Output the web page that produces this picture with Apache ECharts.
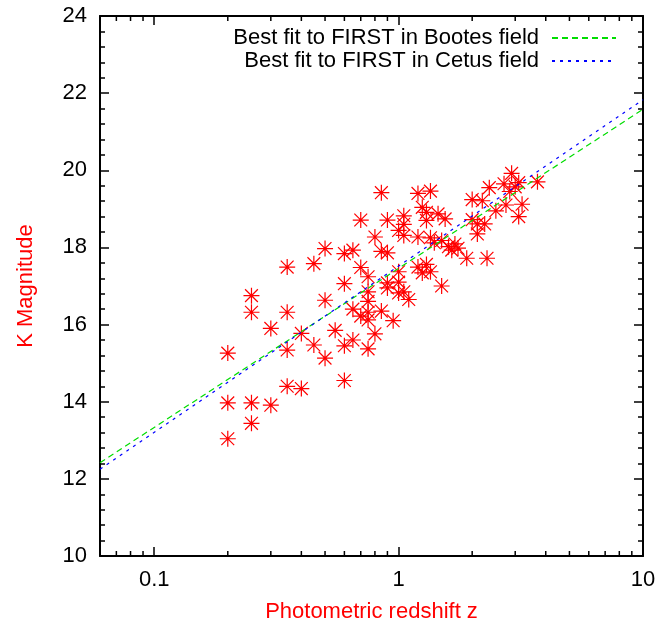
<!DOCTYPE html>
<html>
<head>
<meta charset="utf-8">
<script src="https://cdn.jsdelivr.net/npm/echarts@6/dist/echarts.min.js"></script>
<style>
html,body{margin:0;padding:0;background:#fff;}
#chart{width:659px;height:628px;}
</style>
</head>
<body>
<div id="chart"></div>
<script>
// ---- data ----
const xLabelValues = [0.1, 1, 10];
const yTickValues = [10, 12, 14, 16, 18, 20, 22, 24];
const xMinorTicks = [0.07, 0.08, 0.09, 0.2, 0.3, 0.4, 0.5, 0.6, 0.7, 0.8, 0.9, 2, 3, 4, 5, 6, 7, 8, 9];
const xRange = [0.06, 10];
const yRange = [10, 24];

const fieldPoints = [
  [0.2,15.26],[0.2,13.97],[0.2,13.04],
  [0.25,16.75],[0.25,16.32],[0.25,13.97],[0.25,13.44],
  [0.3,15.9],[0.3,13.91],
  [0.35,17.49],[0.35,16.32],[0.35,15.34],[0.35,14.4],
  [0.4,15.77],[0.4,14.34],
  [0.45,17.58],[0.45,15.47],
  [0.5,17.97],[0.5,16.63],[0.5,15.13],
  [0.55,15.85],
  [0.6,17.84],[0.6,17.06],[0.6,15.45],[0.6,14.55],
  [0.65,17.93],[0.65,16.4],[0.65,15.6],
  [0.7,18.71],[0.7,17.48],[0.7,16.22],
  [0.75,17.24],[0.75,16.85],[0.75,16.6],[0.75,16.32],[0.75,16.12],[0.75,15.37],
  [0.8,18.27],[0.8,15.76],
  [0.85,19.42],[0.85,17.9],[0.85,16.35],
  [0.9,18.71],[0.9,17.86],[0.9,17.08],[0.9,16.95],
  [0.95,16.1],
  [1.0,18.44],[1.0,17.37],[1.0,17.1],[1.0,16.82],
  [1.05,18.82],[1.05,18.6],[1.05,18.31],[1.05,16.85],
  [1.1,16.65],
  [1.2,19.4],[1.2,18.27],[1.2,17.49],
  [1.25,19.04],[1.25,17.34],
  [1.3,18.91],[1.3,18.7],[1.3,17.56],
  [1.35,19.46],[1.35,18.25],[1.35,17.37],
  [1.4,18.12],
  [1.45,18.87],
  [1.5,18.18],[1.5,17.0],
  [1.55,18.74],
  [1.6,18.02],
  [1.65,17.93],
  [1.7,18.09],
  [1.75,17.98],
  [1.9,17.72],
  [2.0,19.24],[2.0,18.72],
  [2.1,18.61],[2.1,18.35],
  [2.2,19.21],
  [2.25,18.61],
  [2.3,17.72],
  [2.35,19.55],
  [2.5,18.95],
  [2.7,19.65],
  [2.75,19.1],
  [2.85,19.45],
  [2.9,19.92],
  [3.0,19.57],
  [3.1,19.68],[3.1,18.8],
  [3.2,19.12],
  [3.7,19.7]
];
const bootesFit = [[0.06, 12.42], [10, 21.58]];
const cetusFit = [[0.06, 12.25], [10, 21.83]];
const bootesName = 'Best fit to FIRST in Bootes field';
const cetusName = 'Best fit to FIRST in Cetus field';
const xName = 'Photometric redshift z';
const yName = 'K Magnitude';

// ---- chart ----
const FONT = 'Liberation Sans, Arial, Helvetica, sans-serif';
const chart = echarts.init(document.getElementById('chart'), null, {renderer: 'canvas'});
const starPath = 'path://M-1,0L1,0M0,-1L0,1M-0.8,-0.8L0.8,0.8M-0.8,0.8L0.8,-0.8';

function logLabel(v) {
  for (const t of xLabelValues) {
    if (Math.abs(Math.log10(v) - Math.log10(t)) < 1e-6) return String(t);
  }
  return '';
}

const xAxisBase = {
  type: 'log', logBase: 10, min: xRange[0], max: xRange[1],
  splitLine: {show: false},
  axisLine: {show: true, lineStyle: {color: '#000', width: 2}},
  axisTick: {show: true, inside: true, length: 9, lineStyle: {color: '#000', width: 1.5}},
  minorTick: {show: false}
};
const yAxisBase = {
  type: 'value', min: yRange[0], max: yRange[1], interval: 2,
  splitLine: {show: false},
  axisLine: {show: true, lineStyle: {color: '#000', width: 2}},
  axisTick: {show: true, inside: true, length: 9, lineStyle: {color: '#000', width: 1.5}},
  minorTick: {show: true, splitNumber: 5, length: 5, lineStyle: {color: '#000', width: 1.5}},
  minorSplitLine: {show: false}
};

const option = {
  animation: false,
  backgroundColor: '#fff',
  textStyle: {fontFamily: FONT},
  grid: {left: 100, right: 16, top: 16, bottom: 69, containLabel: false},
  legend: {
    data: [bootesName, cetusName],
    orient: 'vertical',
    align: 'right',
    right: 37,
    top: 22,
    itemGap: 1,
    itemWidth: 64,
    itemHeight: 10,
    selectedMode: false,
    itemStyle: {opacity: 0},
    textStyle: {fontFamily: FONT, fontSize: 22, color: '#000', padding: [0, 8, 0, 0]}
  },
  xAxis: [
    Object.assign({}, xAxisBase, {
      position: 'bottom',
      name: xName, nameLocation: 'middle', nameGap: 45,
      nameTextStyle: {color: '#ff0000', fontSize: 22, fontFamily: FONT},
      axisLabel: {show: true, color: '#000', fontSize: 22, fontFamily: FONT, margin: 13, formatter: logLabel, showMinLabel: false}
    }),
    Object.assign({}, xAxisBase, {
      position: 'top',
      axisLabel: {show: false}
    })
  ],
  yAxis: [
    Object.assign({}, yAxisBase, {
      position: 'left',
      name: yName, nameLocation: 'middle', nameGap: 63, nameRotate: 90,
      nameTextStyle: {color: '#ff0000', fontSize: 22, fontFamily: FONT},
      axisLabel: {show: true, color: '#000', fontSize: 22, fontFamily: FONT, margin: 13,
        formatter: v => (yTickValues.indexOf(v) >= 0 ? String(v) : '')}
    }),
    Object.assign({}, yAxisBase, {
      position: 'right',
      axisLabel: {show: false}
    })
  ],
  series: [
    {
      type: 'scatter',
      name: 'data',
      data: fieldPoints,
      symbol: starPath,
      symbolSize: 16,
      itemStyle: {color: 'rgba(0,0,0,0)', borderColor: '#ff0000', borderWidth: 1.2, opacity: 1},
      emphasis: {disabled: true},
      silent: true,
      z: 2
    },
    {
      type: 'line',
      name: bootesName,
      data: bootesFit,
      symbol: 'none',
      showSymbol: false,
      lineStyle: {color: '#00dd00', width: 1.2, type: [6, 4]},
      itemStyle: {color: '#00dd00'},
      silent: true,
      z: 3
    },
    {
      type: 'line',
      name: cetusName,
      data: cetusFit,
      symbol: 'none',
      showSymbol: false,
      lineStyle: {color: '#0000ff', width: 1.2, type: [3, 5]},
      itemStyle: {color: '#0000ff'},
      silent: true,
      z: 3
    },
    {
      type: 'custom',
      name: 'xminor',
      data: xMinorTicks.map(v => [v]),
      encode: {x: 0},
      clip: false,
      silent: true,
      z: 4,
      renderItem: function (params, api) {
        const x = api.value(0);
        const b = api.coord([x, yRange[0]]);
        const t = api.coord([x, yRange[1]]);
        const st = {stroke: '#000', lineWidth: 1.5};
        return {
          type: 'group',
          children: [
            {type: 'line', shape: {x1: b[0], y1: b[1], x2: b[0], y2: b[1] - 5}, style: st},
            {type: 'line', shape: {x1: t[0], y1: t[1], x2: t[0], y2: t[1] + 5}, style: st}
          ]
        };
      }
    }
  ]
};
chart.setOption(option);
</script>
</body>
</html>
